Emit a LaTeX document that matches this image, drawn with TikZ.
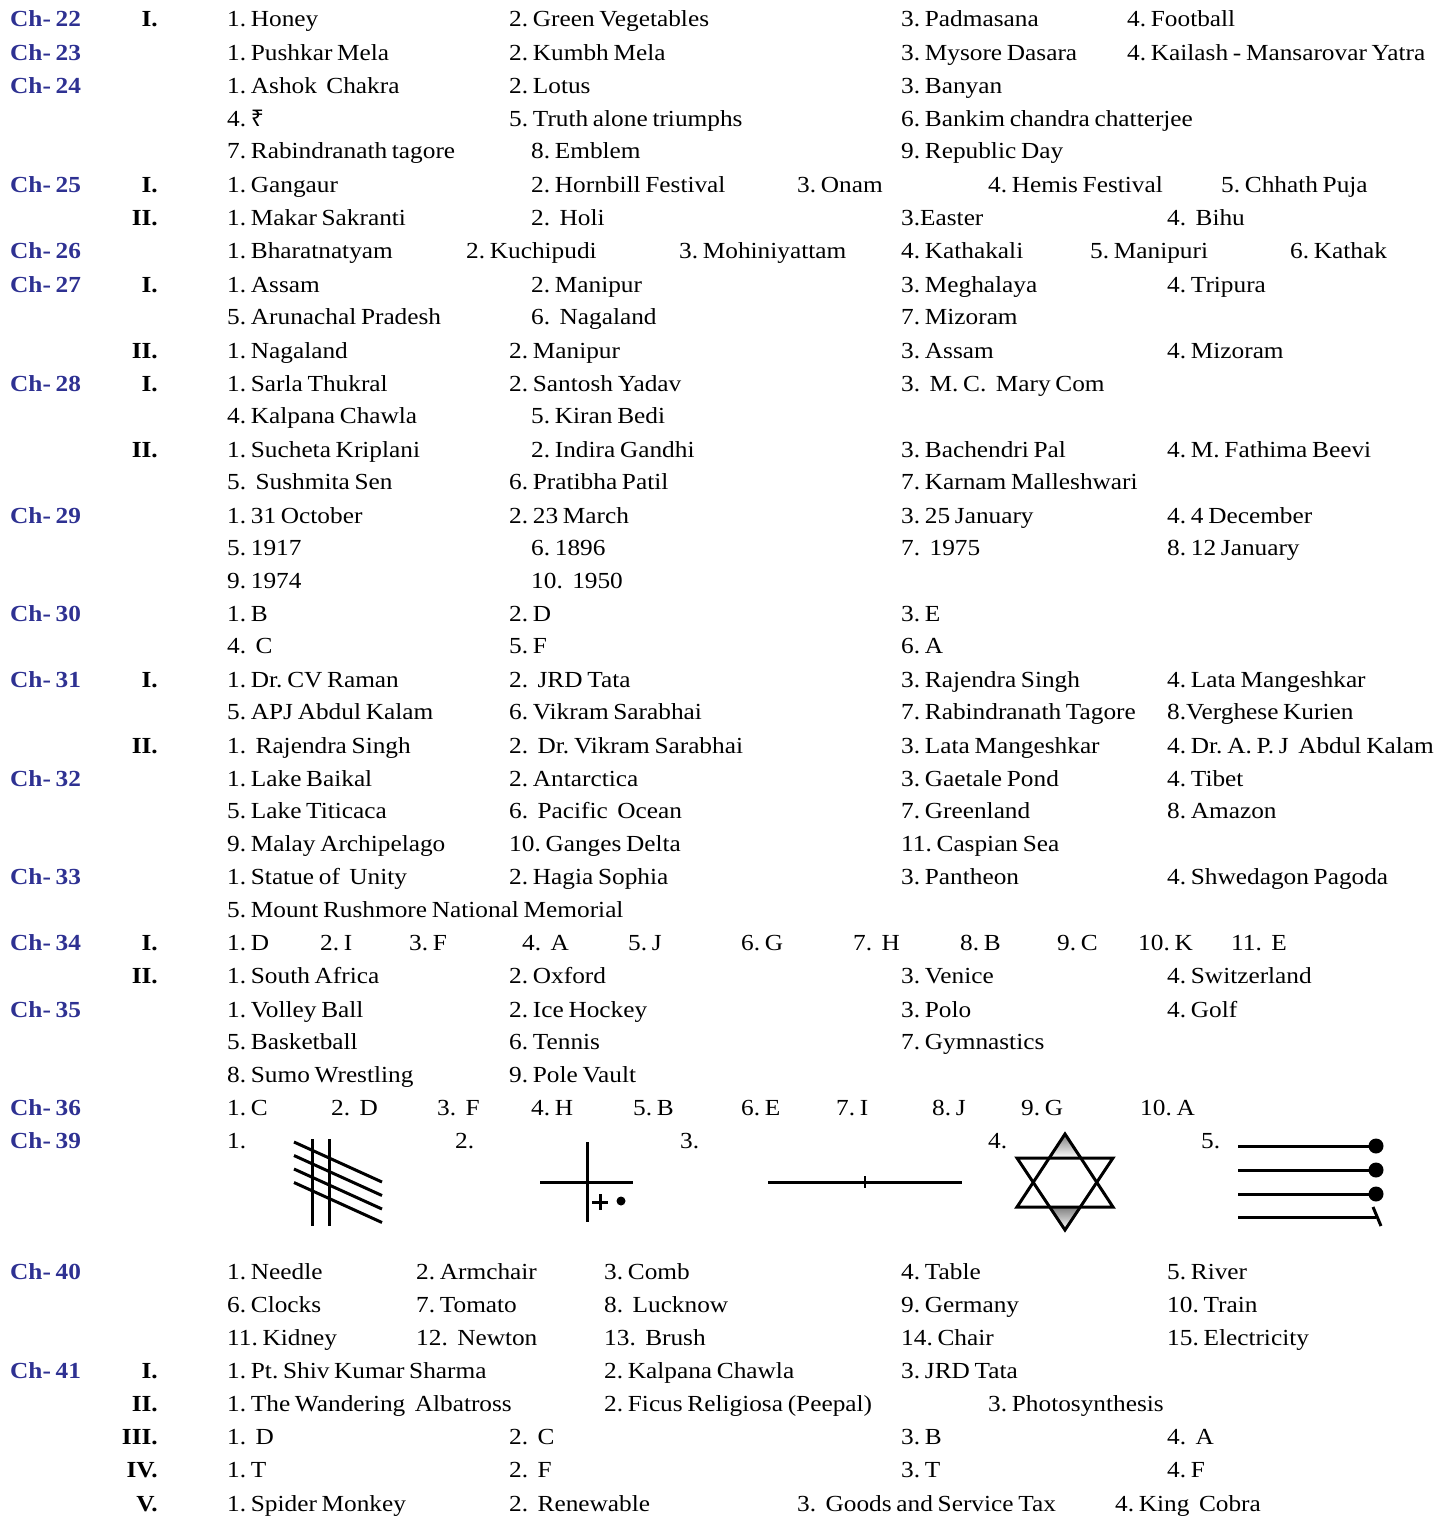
\documentclass[tikz,border=0pt]{standalone}
\usepackage{fontspec}
\setmainfont[FakeStretch=1.1,WordSpace=0.75]{Liberation Serif}
\newfontfamily\rupeefont{Noto Sans}
\definecolor{chblue}{RGB}{46,49,146}
\definecolor{shade}{RGB}{190,190,190}
\newcommand\itm[4]{\node[txt] (#1) at (#2,#3) {#4};}
\newcommand\chp[3]{\node[chap] (#1) at (10,#2) {#3};}
\newcommand\rnm[3]{\node[roman] (#1) at (158,#2) {#3};}
\frenchspacing
\begin{document}
\begin{tikzpicture}[x=1pt,y=-1pt,
  txt/.style={anchor=base west,inner sep=0pt,font=\fontsize{23}{23}\selectfont\frenchspacing},
  chap/.style={anchor=base west,inner sep=0pt,font=\fontsize{23}{23}\selectfont\bfseries,text=chblue},
  roman/.style={anchor=base east,inner sep=0pt,font=\fontsize{23}{23}\selectfont\bfseries},
  fig/.style={line width=3pt}]
\useasboundingbox (0,0) rectangle (1447,1518);
% Ch-22
\chp{c22}{26}{Ch- 22}\rnm{c22r}{26}{I.}
\itm{a1}{227}{26}{1. Honey}\itm{a2}{509}{26}{2. Green Vegetables}\itm{a3}{901}{26}{3. Padmasana}\itm{a4}{1127}{26}{4. Football}
% Ch-23
\chp{c23}{60}{Ch- 23}
\itm{b1}{227}{60}{1. Pushkar Mela}\itm{b2}{509}{60}{2. Kumbh Mela}\itm{b3}{901}{60}{3. Mysore Dasara}\itm{b4}{1127}{60}{4. Kailash - Mansarovar Yatra}
% Ch-24
\chp{c24}{93}{Ch- 24}
\itm{d1}{227}{93}{1. Ashok\ \ Chakra}\itm{d2}{509}{93}{2. Lotus}\itm{d3}{901}{93}{3. Banyan}
\itm{d4}{227}{126}{4. {\rupeefont ₹}}\itm{d5}{509}{126}{5. Truth alone triumphs}\itm{d6}{901}{126}{6. Bankim chandra chatterjee}
\itm{d7}{227}{158}{7. Rabindranath tagore}\itm{d8}{531}{158}{8. Emblem}\itm{d9}{901}{158}{9. Republic Day}
% Ch-25
\chp{c25}{192}{Ch- 25}\rnm{c25r1}{192}{I.}
\itm{e1}{227}{192}{1. Gangaur}\itm{e2}{531}{192}{2. Hornbill Festival}\itm{e3}{797}{192}{3. Onam}\itm{e4}{988}{192}{4. Hemis Festival}\itm{e5}{1221}{192}{5. Chhath Puja}
\rnm{c25r2}{225}{II.}
\itm{f1}{227}{225}{1. Makar Sakranti}\itm{f2}{531}{225}{2.\ \ Holi}\itm{f3}{901}{225}{3.Easter}\itm{f4}{1167}{225}{4.\ \ Bihu}
% Ch-26
\chp{c26}{258}{Ch- 26}
\itm{g1}{227}{258}{1. Bharatnatyam}\itm{g2}{466}{258}{2. Kuchipudi}\itm{g3}{679}{258}{3. Mohiniyattam}\itm{g4}{901}{258}{4. Kathakali}\itm{g5}{1090}{258}{5. Manipuri}\itm{g6}{1290}{258}{6. Kathak}
% Ch-27
\chp{c27}{292}{Ch- 27}\rnm{c27r1}{292}{I.}
\itm{h1}{227}{292}{1. Assam}\itm{h2}{531}{292}{2. Manipur}\itm{h3}{901}{292}{3. Meghalaya}\itm{h4}{1167}{292}{4. Tripura}
\itm{h5}{227}{324}{5. Arunachal Pradesh}\itm{h6}{531}{324}{6.\ \ Nagaland}\itm{h7}{901}{324}{7. Mizoram}
\rnm{c27r2}{358}{II.}
\itm{i1}{227}{358}{1. Nagaland}\itm{i2}{509}{358}{2. Manipur}\itm{i3}{901}{358}{3. Assam}\itm{i4}{1167}{358}{4. Mizoram}
% Ch-28
\chp{c28}{391}{Ch- 28}\rnm{c28r1}{391}{I.}
\itm{j1}{227}{391}{1. Sarla Thukral}\itm{j2}{509}{391}{2. Santosh Yadav}\itm{j3}{901}{391}{3.\ \ M. C.\ \ Mary Com}
\itm{j4}{227}{423}{4. Kalpana Chawla}\itm{j5}{531}{423}{5. Kiran Bedi}
\rnm{c28r2}{457}{II.}
\itm{k1}{227}{457}{1. Sucheta Kriplani}\itm{k2}{531}{457}{2. Indira Gandhi}\itm{k3}{901}{457}{3. Bachendri Pal}\itm{k4}{1167}{457}{4. M. Fathima Beevi}
\itm{k5}{227}{489}{5.\ \ Sushmita Sen}\itm{k6}{509}{489}{6. Pratibha Patil}\itm{k7}{901}{489}{7. Karnam Malleshwari}
% Ch-29
\chp{c29}{523}{Ch- 29}
\itm{l1}{227}{523}{1. 31 October}\itm{l2}{509}{523}{2. 23 March}\itm{l3}{901}{523}{3. 25 January}\itm{l4}{1167}{523}{4. 4 December}
\itm{l5}{227}{555}{5. 1917}\itm{l6}{531}{555}{6. 1896}\itm{l7}{901}{555}{7.\ \ 1975}\itm{l8}{1167}{555}{8. 12 January}
\itm{l9}{227}{588}{9. 1974}\itm{l10}{531}{588}{10.\ \ 1950}
% Ch-30
\chp{c30}{621}{Ch- 30}
\itm{m1}{227}{621}{1. B}\itm{m2}{509}{621}{2. D}\itm{m3}{901}{621}{3. E}
\itm{m4}{227}{653}{4.\ \ C}\itm{m5}{509}{653}{5. F}\itm{m6}{901}{653}{6. A}
% Ch-31
\chp{c31}{687}{Ch- 31}\rnm{c31r1}{687}{I.}
\itm{n1}{227}{687}{1. Dr. CV Raman}\itm{n2}{509}{687}{2.\ \ JRD Tata}\itm{n3}{901}{687}{3. Rajendra Singh}\itm{n4}{1167}{687}{4. Lata Mangeshkar}
\itm{n5}{227}{719}{5. APJ Abdul Kalam}\itm{n6}{509}{719}{6. Vikram Sarabhai}\itm{n7}{901}{719}{7. Rabindranath Tagore}\itm{n8}{1167}{719}{8.Verghese Kurien}
\rnm{c31r2}{753}{II.}
\itm{o1}{227}{753}{1.\ \ Rajendra Singh}\itm{o2}{509}{753}{2.\ \ Dr. Vikram Sarabhai}\itm{o3}{901}{753}{3. Lata Mangeshkar}\itm{o4}{1167}{753}{4. Dr. A. P. J\ \ Abdul Kalam}
% Ch-32
\chp{c32}{786}{Ch- 32}
\itm{p1}{227}{786}{1. Lake Baikal}\itm{p2}{509}{786}{2. Antarctica}\itm{p3}{901}{786}{3. Gaetale Pond}\itm{p4}{1167}{786}{4. Tibet}
\itm{p5}{227}{818}{5. Lake Titicaca}\itm{p6}{509}{818}{6.\ \ Pacific\ \ Ocean}\itm{p7}{901}{818}{7. Greenland}\itm{p8}{1167}{818}{8. Amazon}
\itm{p9}{227}{851}{9. Malay Archipelago}\itm{p10}{509}{851}{10. Ganges Delta}\itm{p11}{901}{851}{11. Caspian Sea}
% Ch-33
\chp{c33}{884}{Ch- 33}
\itm{q1}{227}{884}{1. Statue of\ \ Unity}\itm{q2}{509}{884}{2. Hagia Sophia}\itm{q3}{901}{884}{3. Pantheon}\itm{q4}{1167}{884}{4. Shwedagon Pagoda}
\itm{q5}{227}{917}{5. Mount Rushmore National Memorial}
% Ch-34
\chp{c34}{950}{Ch- 34}\rnm{c34r1}{950}{I.}
\itm{s1}{227}{950}{1. D}\itm{s2}{320}{950}{2. I}\itm{s3}{409}{950}{3. F}\itm{s4}{522}{950}{4.\ \ A}\itm{s5}{628}{950}{5. J}\itm{s6}{741}{950}{6. G}\itm{s7}{853}{950}{7.\ \ H}\itm{s8}{960}{950}{8. B}\itm{s9}{1057}{950}{9. C}\itm{s10}{1138}{950}{10. K}\itm{s11}{1231}{950}{11.\ \ E}
\rnm{c34r2}{983}{II.}
\itm{t1}{227}{983}{1. South Africa}\itm{t2}{509}{983}{2. Oxford}\itm{t3}{901}{983}{3. Venice}\itm{t4}{1167}{983}{4. Switzerland}
% Ch-35
\chp{c35}{1017}{Ch- 35}
\itm{u1}{227}{1017}{1. Volley Ball}\itm{u2}{509}{1017}{2. Ice Hockey}\itm{u3}{901}{1017}{3. Polo}\itm{u4}{1167}{1017}{4. Golf}
\itm{u5}{227}{1049}{5. Basketball}\itm{u6}{509}{1049}{6. Tennis}\itm{u7}{901}{1049}{7. Gymnastics}
\itm{u8}{227}{1082}{8. Sumo Wrestling}\itm{u9}{509}{1082}{9. Pole Vault}
% Ch-36
\chp{c36}{1115}{Ch- 36}
\itm{v1}{227}{1115}{1. C}\itm{v2}{331}{1115}{2.\ \ D}\itm{v3}{437}{1115}{3.\ \ F}\itm{v4}{531}{1115}{4. H}\itm{v5}{633}{1115}{5. B}\itm{v6}{741}{1115}{6. E}\itm{v7}{836}{1115}{7. I}\itm{v8}{932}{1115}{8. J}\itm{v9}{1021}{1115}{9. G}\itm{v10}{1140}{1115}{10. A}
% Ch-39
\chp{c39}{1148}{Ch- 39}
\itm{w1}{227}{1148}{1.}\itm{w2}{455}{1148}{2.}\itm{w3}{680}{1148}{3.}\itm{w4}{988}{1148}{4.}\itm{w5}{1201}{1148}{5.}
% figure 1
\draw[fig] (312,1139) -- (312,1226) (329,1139) -- (329,1226);
\foreach \dy in {0,13.5,27,40.5} \draw[fig] (294,1142+\dy) -- (382,1182+\dy);
% figure 2
\draw[fig] (587,1142) -- (587,1222) (540,1182) -- (633,1182);
\draw[fig] (592,1202) -- (608,1202) (600,1194) -- (600,1210);
\fill (621,1201) circle (4.5);
% figure 3
\draw[fig] (768,1182) -- (962,1182);
\draw[line width=2pt] (865,1176) -- (865,1188);
% figure 4
\fill[shade] (1065,1134) -- (1051,1158) -- (1079,1158) -- cycle;
\fill[shade] (1065,1230) -- (1051,1207) -- (1079,1207) -- cycle;
\draw[fig,line join=miter] (1065,1134) -- (1113,1207) -- (1017,1207) -- cycle;
\draw[fig,line join=miter] (1065,1230) -- (1113,1158) -- (1017,1158) -- cycle;
% figure 5
\foreach \yy in {1146,1170,1194} {\draw[fig] (1238,\yy) -- (1376,\yy); \fill (1376,\yy) circle (7.5);}
\draw[fig] (1238,1217) -- (1376,1217);
\draw[fig] (1373,1207) -- (1381,1226);
% Ch-40
\chp{c40}{1279}{Ch- 40}
\itm{x1}{227}{1279}{1. Needle}\itm{x2}{416}{1279}{2. Armchair}\itm{x3}{604}{1279}{3. Comb}\itm{x4}{901}{1279}{4. Table}\itm{x5}{1167}{1279}{5. River}
\itm{x6}{227}{1312}{6. Clocks}\itm{x7}{416}{1312}{7. Tomato}\itm{x8}{604}{1312}{8.\ \ Lucknow}\itm{x9}{901}{1312}{9. Germany}\itm{x10}{1167}{1312}{10. Train}
\itm{x11}{227}{1345}{11. Kidney}\itm{x12}{416}{1345}{12.\ \ Newton}\itm{x13}{604}{1345}{13.\ \ Brush}\itm{x14}{901}{1345}{14. Chair}\itm{x15}{1167}{1345}{15. Electricity}
% Ch-41
\chp{c41}{1378}{Ch- 41}\rnm{c41r1}{1378}{I.}
\itm{y1}{227}{1378}{1. Pt. Shiv Kumar Sharma}\itm{y2}{604}{1378}{2. Kalpana Chawla}\itm{y3}{901}{1378}{3. JRD Tata}
\rnm{c41r2}{1411}{II.}
\itm{z1}{227}{1411}{1. The Wandering\ \ Albatross}\itm{z2}{604}{1411}{2. Ficus Religiosa (Peepal)}\itm{z3}{988}{1411}{3. Photosynthesis}
\rnm{c41r3}{1444}{III.}
\itm{aa1}{227}{1444}{1.\ \ D}\itm{aa2}{509}{1444}{2.\ \ C}\itm{aa3}{901}{1444}{3. B}\itm{aa4}{1167}{1444}{4.\ \ A}
\rnm{c41r4}{1477}{IV.}
\itm{bb1}{227}{1477}{1. T}\itm{bb2}{509}{1477}{2.\ \ F}\itm{bb3}{901}{1477}{3. T}\itm{bb4}{1167}{1477}{4. F}
\rnm{c41r5}{1511}{V.}
\itm{cc1}{227}{1511}{1. Spider Monkey}\itm{cc2}{509}{1511}{2.\ \ Renewable}\itm{cc3}{797}{1511}{3.\ \ Goods and Service Tax}\itm{cc4}{1115}{1511}{4. King\ \ Cobra}
\end{tikzpicture}
\end{document}
